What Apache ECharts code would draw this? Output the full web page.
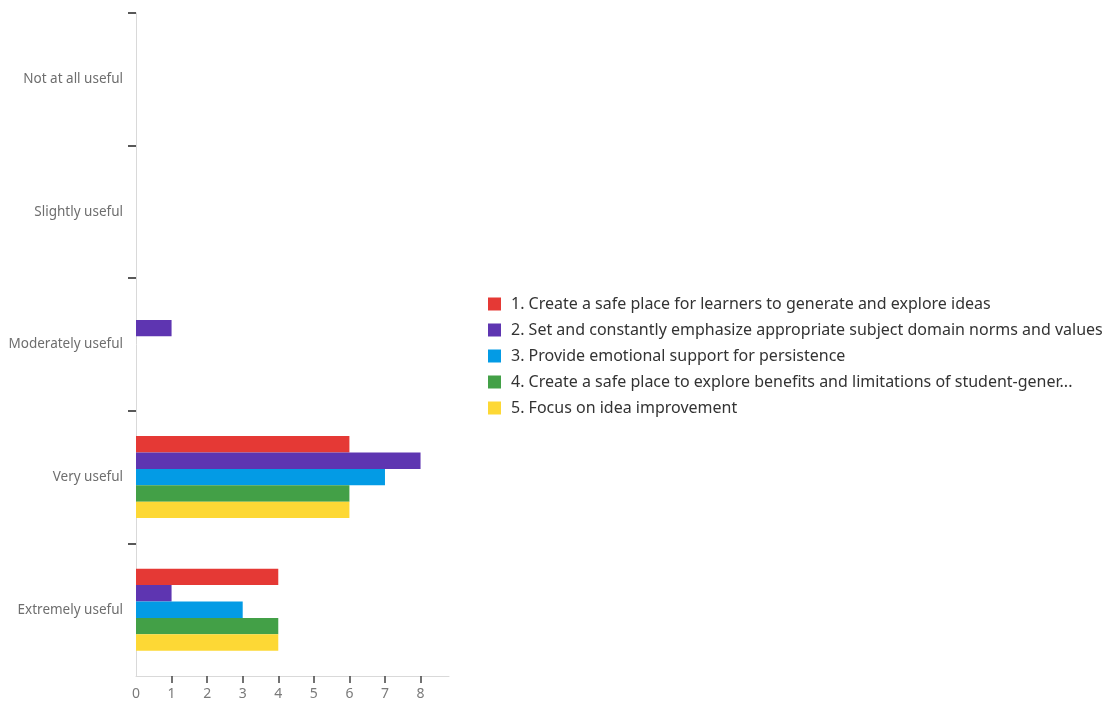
<!DOCTYPE html>
<html>
<head>
<meta charset="utf-8">
<script src="https://cdn.jsdelivr.net/npm/echarts@6/dist/echarts.min.js"></script>
<style>
  html, body { margin: 0; padding: 0; background: #fff; }
  #chart { width: 1112px; height: 701px; }
</style>
</head>
<body>
<div id="chart"></div>
<script>
// Response scale, top to bottom
const categories = ['Not at all useful', 'Slightly useful', 'Moderately useful', 'Very useful', 'Extremely useful'];

// Practice statements (legend entries)
const seriesNames = [
  '1. Create a safe place for learners to generate and explore ideas',
  '2. Set and constantly emphasize appropriate subject domain norms and values',
  '3. Provide emotional support for persistence',
  '4. Create a safe place to explore benefits and limitations of student-gener...',
  '5. Focus on idea improvement'
];

// Counts per response, in category order
const practice1 = [0, 0, 0, 6, 4];
const practice2 = [0, 0, 1, 8, 1];
const practice3 = [0, 0, 0, 7, 3];
const practice4 = [0, 0, 0, 6, 4];
const practice5 = [0, 0, 0, 6, 4];

// Value-axis labels and tick marks
const xLabels = [0, 1, 2, 3, 4, 5, 6, 7, 8];
const xTicks = [1, 2, 3, 4, 5, 6, 7, 8];
// Boundaries between response bands that carry a tick mark
const bandBoundaries = [0, 1, 2, 3, 4];

const colors = ['#e53935', '#5e35b1', '#039be5', '#43a047', '#fdd835'];
const seriesValues = [practice1, practice2, practice3, practice4, practice5];

const chart = echarts.init(document.getElementById('chart'), null, { renderer: 'canvas' });

chart.setOption({
  animation: false,
  color: colors,
  textStyle: { fontFamily: 'Noto Sans' },
  grid: { left: 136, top: 13, right: 663, bottom: 24, containLabel: false },
  legend: {
    orient: 'vertical',
    left: 483,
    top: 288,
    padding: 5,
    itemWidth: 13,
    itemHeight: 13,
    itemGap: 4,
    icon: 'rect',
    textStyle: {
      fontSize: 16, color: '#333', fontFamily: 'Noto Sans',
      lineHeight: 22, padding: [0, 0, 0, 5]
    },
    data: seriesNames
  },
  xAxis: {
    type: 'value',
    position: 'bottom',
    min: 0,
    max: 8.8,
    interval: 1,
    splitLine: { show: false },
    axisLine: { show: true, onZero: false, lineStyle: { color: '#d9d9d9', width: 1 } },
    axisTick: { show: true, length: 7, lineStyle: { color: '#444', width: 1.5 }, customValues: xTicks },
    axisLabel: { color: '#7a7a7a', fontSize: 14, margin: 11, customValues: xLabels }
  },
  yAxis: [
    {
      type: 'category',
      inverse: true,
      data: categories,
      axisLine: { show: true, onZero: false, lineStyle: { color: '#d9d9d9', width: 1 } },
      axisTick: { show: false },
      axisLabel: { color: '#6e6e6e', fontSize: 13.5, margin: 13 },
      splitLine: { show: false }
    },
    {
      // band-boundary tick marks along the category axis
      type: 'value',
      position: 'left',
      inverse: true,
      min: 0,
      max: categories.length,
      interval: 1,
      axisLine: { show: false, onZero: false },
      axisTick: { show: true, length: 8, lineStyle: { color: '#222', width: 1.5 }, customValues: bandBoundaries },
      axisLabel: { show: false },
      splitLine: { show: false }
    }
  ],
  series: seriesNames.map((name, i) => ({
    name: name,
    type: 'bar',
    yAxisIndex: 0,
    data: seriesValues[i],
    barWidth: 16.4,
    barGap: '0%',
    itemStyle: { color: colors[i] }
  }))
});
</script>
</body>
</html>
